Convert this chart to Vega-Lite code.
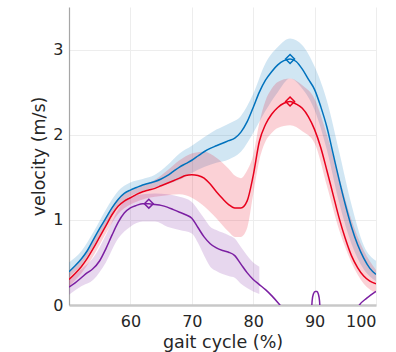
{
  "$schema": "https://vega.github.io/schema/vega-lite/v6.json",
  "width": 307,
  "height": 298,
  "autosize": {"type": "none"},
  "padding": {"left": 69, "top": 7, "right": 20, "bottom": 47},
  "background": "white",
  "config": {
    "view": {"stroke": null},
    "font": "DejaVu Sans",
    "axis": {"labelFont": "DejaVu Sans", "titleFont": "DejaVu Sans", "labelColor": "#262626", "titleColor": "#262626", "titleFontWeight": "normal", "gridColor": "#ededed", "gridWidth": 1, "ticks": false}
  },
  "datasets": {
    "lines": [
      {"x":50,"s":"b","y":0.39},{"x":51,"s":"b","y":0.46},{"x":52,"s":"b","y":0.54},{"x":53,"s":"b","y":0.64},{"x":54,"s":"b","y":0.77},{"x":55,"s":"b","y":0.9},{"x":56,"s":"b","y":1.02},{"x":57,"s":"b","y":1.14},{"x":58,"s":"b","y":1.24},{"x":59,"s":"b","y":1.31},{"x":60,"s":"b","y":1.35},{"x":61,"s":"b","y":1.38},{"x":62,"s":"b","y":1.41},{"x":63,"s":"b","y":1.43},{"x":64,"s":"b","y":1.45},{"x":65,"s":"b","y":1.48},{"x":66,"s":"b","y":1.52},{"x":67,"s":"b","y":1.57},{"x":68,"s":"b","y":1.62},{"x":69,"s":"b","y":1.66},{"x":70,"s":"b","y":1.7},{"x":71,"s":"b","y":1.75},{"x":72,"s":"b","y":1.8},{"x":73,"s":"b","y":1.84},{"x":74,"s":"b","y":1.87},{"x":75,"s":"b","y":1.9},{"x":76,"s":"b","y":1.93},{"x":77,"s":"b","y":1.96},{"x":78,"s":"b","y":2.03},{"x":79,"s":"b","y":2.15},{"x":80,"s":"b","y":2.32},{"x":81,"s":"b","y":2.5},{"x":82,"s":"b","y":2.64},{"x":83,"s":"b","y":2.74},{"x":84,"s":"b","y":2.82},{"x":85,"s":"b","y":2.87},{"x":86,"s":"b","y":2.89},{"x":87,"s":"b","y":2.86},{"x":88,"s":"b","y":2.77},{"x":89,"s":"b","y":2.65},{"x":90,"s":"b","y":2.53},{"x":91,"s":"b","y":2.33},{"x":92,"s":"b","y":2.09},{"x":93,"s":"b","y":1.78},{"x":94,"s":"b","y":1.47},{"x":95,"s":"b","y":1.18},{"x":96,"s":"b","y":0.92},{"x":97,"s":"b","y":0.71},{"x":98,"s":"b","y":0.55},{"x":99,"s":"b","y":0.43},{"x":100,"s":"b","y":0.36},
      {"x":50,"s":"r","y":0.3},{"x":51,"s":"r","y":0.37},{"x":52,"s":"r","y":0.45},{"x":53,"s":"r","y":0.55},{"x":54,"s":"r","y":0.67},{"x":55,"s":"r","y":0.8},{"x":56,"s":"r","y":0.93},{"x":57,"s":"r","y":1.06},{"x":58,"s":"r","y":1.16},{"x":59,"s":"r","y":1.22},{"x":60,"s":"r","y":1.26},{"x":61,"s":"r","y":1.3},{"x":62,"s":"r","y":1.33},{"x":63,"s":"r","y":1.35},{"x":64,"s":"r","y":1.37},{"x":65,"s":"r","y":1.4},{"x":66,"s":"r","y":1.43},{"x":67,"s":"r","y":1.46},{"x":68,"s":"r","y":1.49},{"x":69,"s":"r","y":1.52},{"x":70,"s":"r","y":1.53},{"x":71,"s":"r","y":1.52},{"x":72,"s":"r","y":1.49},{"x":73,"s":"r","y":1.42},{"x":74,"s":"r","y":1.33},{"x":75,"s":"r","y":1.25},{"x":76,"s":"r","y":1.18},{"x":77,"s":"r","y":1.14},{"x":78,"s":"r","y":1.14},{"x":79,"s":"r","y":1.22},{"x":80,"s":"r","y":1.52},{"x":81,"s":"r","y":1.92},{"x":82,"s":"r","y":2.12},{"x":83,"s":"r","y":2.24},{"x":84,"s":"r","y":2.32},{"x":85,"s":"r","y":2.37},{"x":86,"s":"r","y":2.39},{"x":87,"s":"r","y":2.36},{"x":88,"s":"r","y":2.31},{"x":89,"s":"r","y":2.21},{"x":90,"s":"r","y":2.06},{"x":91,"s":"r","y":1.85},{"x":92,"s":"r","y":1.58},{"x":93,"s":"r","y":1.3},{"x":94,"s":"r","y":1.02},{"x":95,"s":"r","y":0.78},{"x":96,"s":"r","y":0.58},{"x":97,"s":"r","y":0.44},{"x":98,"s":"r","y":0.34},{"x":99,"s":"r","y":0.28},{"x":100,"s":"r","y":0.25},
      {"x":50,"s":"p","y":0.21},{"x":51,"s":"p","y":0.26},{"x":52,"s":"p","y":0.32},{"x":53,"s":"p","y":0.38},{"x":53.8,"s":"p","y":0.42},{"x":55,"s":"p","y":0.52},{"x":56,"s":"p","y":0.66},{"x":57,"s":"p","y":0.82},{"x":58,"s":"p","y":0.97},{"x":59,"s":"p","y":1.08},{"x":60,"s":"p","y":1.14},{"x":61,"s":"p","y":1.17},{"x":62,"s":"p","y":1.19},{"x":63,"s":"p","y":1.19},{"x":64,"s":"p","y":1.18},{"x":65,"s":"p","y":1.17},{"x":66,"s":"p","y":1.15},{"x":67,"s":"p","y":1.12},{"x":68,"s":"p","y":1.09},{"x":69,"s":"p","y":1.06},{"x":70,"s":"p","y":1.02},{"x":71,"s":"p","y":0.91},{"x":72,"s":"p","y":0.8},{"x":73,"s":"p","y":0.72},{"x":74,"s":"p","y":0.67},{"x":75,"s":"p","y":0.64},{"x":76,"s":"p","y":0.62},{"x":77,"s":"p","y":0.58},{"x":78,"s":"p","y":0.48},{"x":79,"s":"p","y":0.38},{"x":80,"s":"p","y":0.3},{"x":81,"s":"p","y":0.24},{"x":82,"s":"p","y":0.18},{"x":83,"s":"p","y":0.11},{"x":84,"s":"p","y":0.03},{"x":85,"s":"p","y":-0.06},{"x":87,"s":"p","y":-0.3},{"x":89,"s":"p","y":-0.4},{"x":89.4,"s":"p","y":-0.2},{"x":89.6,"s":"p","y":0.05},{"x":89.8,"s":"p","y":0.13},{"x":90.1,"s":"p","y":0.16},{"x":90.4,"s":"p","y":0.16},{"x":90.6,"s":"p","y":0.13},{"x":90.8,"s":"p","y":0.05},{"x":91,"s":"p","y":-0.2},{"x":91.4,"s":"p","y":-0.4},{"x":94,"s":"p","y":-0.5},{"x":96,"s":"p","y":-0.2},{"x":97.3,"s":"p","y":0.0},{"x":98.5,"s":"p","y":0.08},{"x":100,"s":"p","y":0.16}
    ],
    "bands": [
      {"x":50,"s":"b","lo":0.33,"hi":0.5},{"x":52,"s":"b","lo":0.47,"hi":0.63},{"x":54,"s":"b","lo":0.69,"hi":0.86},{"x":56,"s":"b","lo":0.94,"hi":1.12},{"x":58,"s":"b","lo":1.16,"hi":1.34},{"x":60,"s":"b","lo":1.28,"hi":1.44},{"x":62,"s":"b","lo":1.34,"hi":1.48},{"x":64,"s":"b","lo":1.38,"hi":1.53},{"x":66,"s":"b","lo":1.42,"hi":1.64},{"x":68,"s":"b","lo":1.47,"hi":1.78},{"x":70,"s":"b","lo":1.55,"hi":1.87},{"x":72,"s":"b","lo":1.62,"hi":1.97},{"x":74,"s":"b","lo":1.67,"hi":2.06},{"x":76,"s":"b","lo":1.71,"hi":2.13},{"x":78,"s":"b","lo":1.8,"hi":2.22},{"x":80,"s":"b","lo":2.02,"hi":2.48},{"x":82,"s":"b","lo":2.28,"hi":2.84},{"x":84,"s":"b","lo":2.5,"hi":3.03},{"x":86,"s":"b","lo":2.66,"hi":3.13},{"x":88,"s":"b","lo":2.54,"hi":3.05},{"x":90,"s":"b","lo":2.29,"hi":2.8},{"x":92,"s":"b","lo":1.82,"hi":2.4},{"x":94,"s":"b","lo":1.2,"hi":1.8},{"x":96,"s":"b","lo":0.72,"hi":1.18},{"x":98,"s":"b","lo":0.42,"hi":0.7},{"x":100,"s":"b","lo":0.28,"hi":0.52},
      {"x":50,"s":"r","lo":0.22,"hi":0.38},{"x":52,"s":"r","lo":0.37,"hi":0.53},{"x":54,"s":"r","lo":0.58,"hi":0.76},{"x":56,"s":"r","lo":0.84,"hi":1.02},{"x":58,"s":"r","lo":1.07,"hi":1.25},{"x":60,"s":"r","lo":1.18,"hi":1.34},{"x":62,"s":"r","lo":1.24,"hi":1.4},{"x":64,"s":"r","lo":1.27,"hi":1.47},{"x":66,"s":"r","lo":1.29,"hi":1.58},{"x":68,"s":"r","lo":1.3,"hi":1.7},{"x":70,"s":"r","lo":1.26,"hi":1.78},{"x":72,"s":"r","lo":1.16,"hi":1.8},{"x":74,"s":"r","lo":1.02,"hi":1.73},{"x":76,"s":"r","lo":0.86,"hi":1.6},{"x":77,"s":"r","lo":0.8,"hi":1.52},{"x":78,"s":"r","lo":0.8,"hi":1.49},{"x":79,"s":"r","lo":0.9,"hi":1.58},{"x":80,"s":"r","lo":1.3,"hi":1.76},{"x":81,"s":"r","lo":1.7,"hi":2.14},{"x":82,"s":"r","lo":1.92,"hi":2.4},{"x":83,"s":"r","lo":2.02,"hi":2.54},{"x":84,"s":"r","lo":2.08,"hi":2.62},{"x":86,"s":"r","lo":2.11,"hi":2.66},{"x":88,"s":"r","lo":2.04,"hi":2.58},{"x":90,"s":"r","lo":1.9,"hi":2.42},{"x":92,"s":"r","lo":1.4,"hi":2.0},{"x":94,"s":"r","lo":0.88,"hi":1.5},{"x":96,"s":"r","lo":0.5,"hi":1.0},{"x":98,"s":"r","lo":0.25,"hi":0.64},{"x":100,"s":"r","lo":0.14,"hi":0.41},
      {"x":50,"s":"p","lo":0.12,"hi":0.3},{"x":52,"s":"p","lo":0.22,"hi":0.42},{"x":54,"s":"p","lo":0.3,"hi":0.56},{"x":56,"s":"p","lo":0.5,"hi":0.82},{"x":58,"s":"p","lo":0.78,"hi":1.12},{"x":60,"s":"p","lo":0.92,"hi":1.27},{"x":62,"s":"p","lo":0.98,"hi":1.3},{"x":64,"s":"p","lo":0.98,"hi":1.31},{"x":66,"s":"p","lo":0.92,"hi":1.3},{"x":68,"s":"p","lo":0.88,"hi":1.27},{"x":70,"s":"p","lo":0.84,"hi":1.21},{"x":71,"s":"p","lo":0.73,"hi":1.12},{"x":72,"s":"p","lo":0.58,"hi":1.02},{"x":73,"s":"p","lo":0.45,"hi":0.92},{"x":74,"s":"p","lo":0.4,"hi":0.88},{"x":76,"s":"p","lo":0.34,"hi":0.82},{"x":77,"s":"p","lo":0.32,"hi":0.78},{"x":78,"s":"p","lo":0.25,"hi":0.68},{"x":79,"s":"p","lo":0.2,"hi":0.58},{"x":80,"s":"p","lo":0.16,"hi":0.5},{"x":81,"s":"p","lo":0.13,"hi":0.45}
    ],
    "peaks": [
      {"x":86,"s":"b","y":2.89},{"x":86,"s":"r","y":2.39},{"x":63,"s":"p","y":1.19}
    ]
  },
  "encoding": {
    "x": {"field": "x", "type": "quantitative", "scale": {"domain": [50, 100], "nice": false, "zero": false},
      "axis": {"values": [60, 70, 80, 90, 100], "format": "d", "title": "gait cycle (%)", "labelFontSize": 16, "titleFontSize": 17.5, "labelPadding": 8, "titlePadding": 4, "domainColor": "#c8c8c8", "domainWidth": 2.5}},
    "color": {"field": "s", "type": "nominal", "scale": {"domain": ["b", "r", "p"], "range": ["#0072BD", "#E8001C", "#7B1FA2"]}, "legend": null}
  },
  "layer": [
    {"data": {"name": "bands"}, "mark": {"type": "area", "opacity": 0.18, "interpolate": "monotone", "clip": true},
      "encoding": {"y": {"field": "lo", "type": "quantitative", "scale": {"domain": [0, 3.5], "nice": false},
        "axis": {"values": [0, 1, 2, 3], "format": "d", "title": "velocity (m/s)", "labelFontSize": 16, "titleFontSize": 17.5, "labelPadding": 6, "titlePadding": 4, "domainColor": "#a6a6a6", "domainWidth": 1.2}},
        "y2": {"field": "hi"}, "detail": {"field": "s"}}},
    {"data": {"name": "lines"}, "mark": {"type": "line", "strokeWidth": 1.5, "interpolate": "monotone", "clip": true},
      "encoding": {"y": {"field": "y", "type": "quantitative"}}},
    {"data": {"name": "peaks"}, "mark": {"type": "point", "shape": "diamond", "size": 80, "filled": false, "strokeWidth": 1.5, "opacity": 1},
      "encoding": {"y": {"field": "y", "type": "quantitative"}}}
  ]
}
